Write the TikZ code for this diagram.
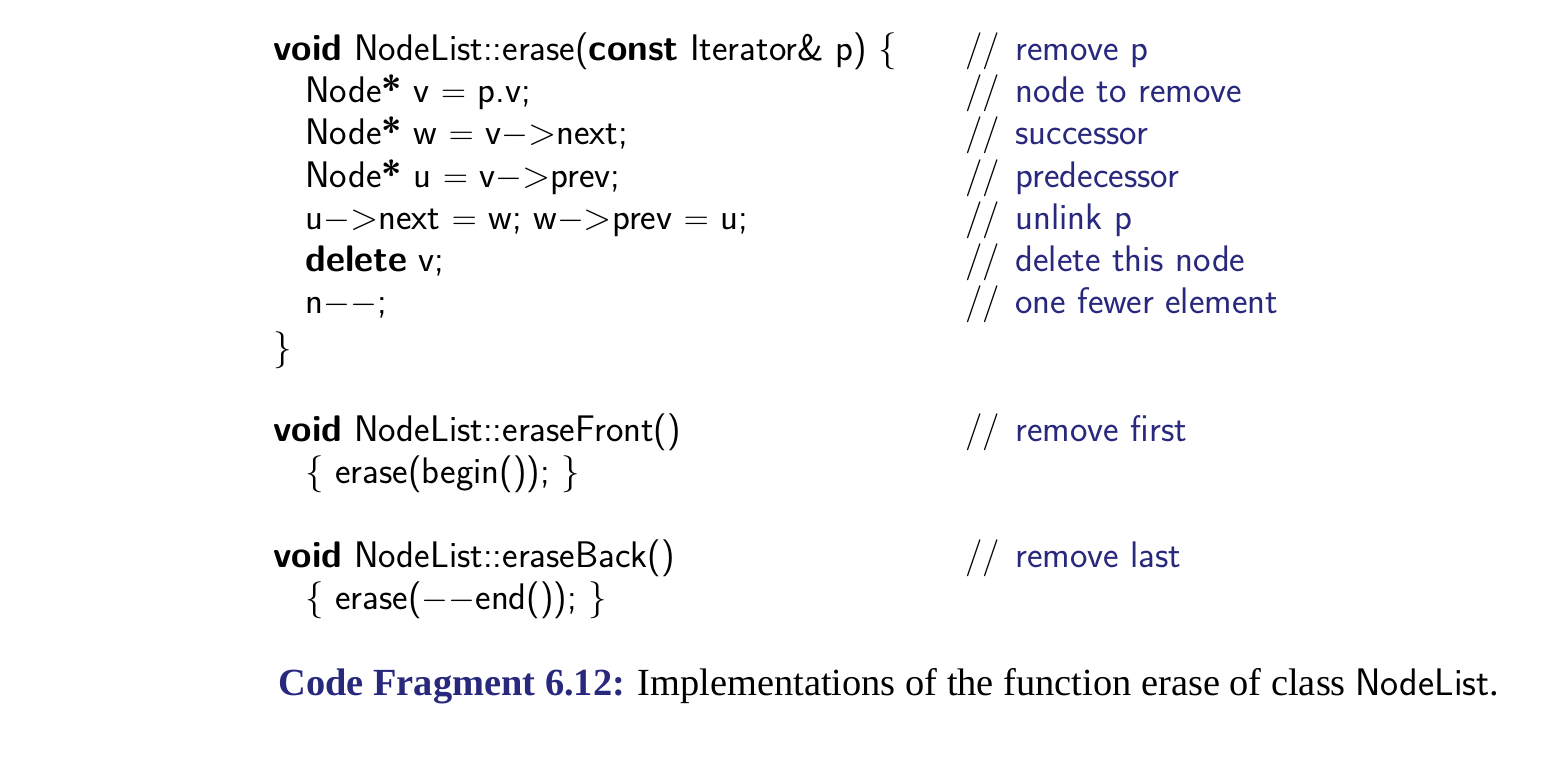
\documentclass[tikz,border=0pt]{standalone}
\usepackage{fontspec}
\setmainfont{Liberation Serif}
\definecolor{cblue}{RGB}{40,40,125}
\begin{document}
\begin{tikzpicture}[x=0.5pt,y=-0.5pt,
  code/.style={anchor=base west,inner sep=0pt,font=\fontsize{18.5}{22}\sffamily},
  cmt/.style={code,text=cblue}]
\useasboundingbox (0,0) rectangle (1558,760);
\def\m{$-$>}
\node[code] (l1) at (273,60) {\textbf{void} NodeList::erase(\textbf{const} Iterator\& p) \{};
\node[code] (l2) at (305,102) {Node\textbf{*} v $=$ p.v;};
\node[code] (l3) at (305,144) {Node\textbf{*} w $=$ v\m next;};
\node[code] (l4) at (305,187) {Node\textbf{*} u $=$ v\m prev;};
\node[code] (l5) at (305,229) {u\m next $=$ w; w\m prev $=$ u;};
\node[code] (l6) at (305,271) {\textbf{delete} v;};
\node[code] (l7) at (305,313) {n$--$;};
\node[code] (l8) at (273,359) {\}};
\node[code] (l9) at (273,441) {\textbf{void} NodeList::eraseFront()};
\node[code] (l10) at (305,483) {\{ erase(begin()); \}};
\node[code] (l11) at (273,567) {\textbf{void} NodeList::eraseBack()};
\node[code] (l12) at (305,609) {\{ erase($--$end()); \}};
\foreach \y/\t [count=\i] in {60/remove p,102/node to remove,144/successor,187/predecessor,229/unlink p,271/delete this node,313/one fewer element,441/remove first,567/remove last}{
  \node[code] (s\i) at (965,\y) {//};
  \node[cmt] (c\i) at (1015,\y) {\t};
}
\node[anchor=base west,inner sep=0pt,font=\fontsize{19.2}{22}\selectfont] (cap) at (278,695)
  {\textcolor{cblue}{\textbf{Code Fragment 6.12:}} Implementations of the function erase of class \textsf{NodeList}.};
\end{tikzpicture}
\end{document}
